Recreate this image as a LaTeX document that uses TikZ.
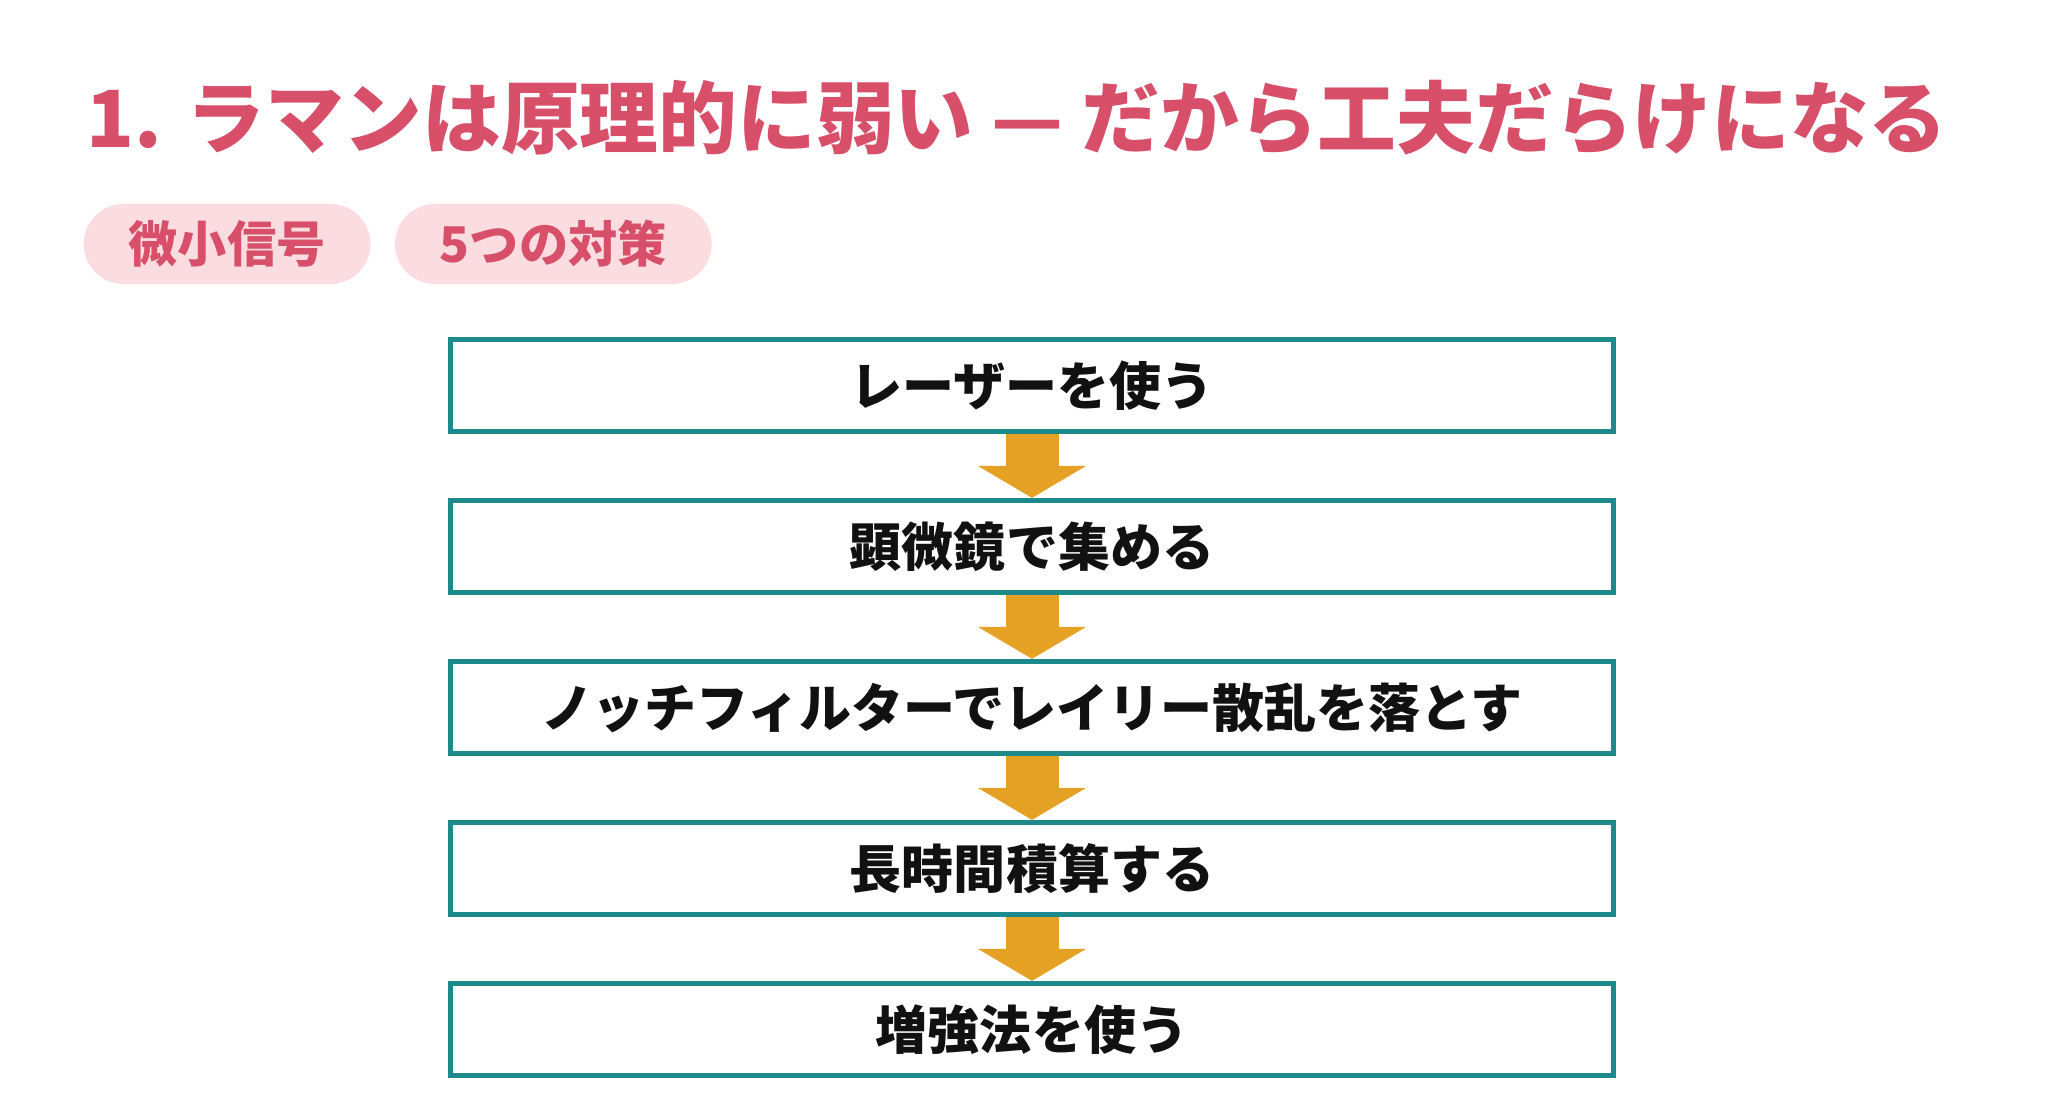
\documentclass[tikz,border=0pt]{standalone}
\usepackage{fontspec}
\setmainfont{Noto Sans CJK JP}
\usepackage{tikz}
\usetikzlibrary{positioning,arrows.meta,backgrounds}
\definecolor{rose1}{HTML}{D84F6A}
\definecolor{rosefill}{HTML}{FADCE1}
\definecolor{teal1}{HTML}{1C8A8C}
\definecolor{amber1}{HTML}{E5A124}
\definecolor{ink1}{HTML}{111111}

\begin{document}
\begin{tikzpicture}[
    stage/.style={draw=teal1, line width=1.5pt, fill=white,
                  minimum width=11.63cm, minimum height=0.92cm,
                  text=ink1, font=\bfseries\fontsize{14.8}{16}\selectfont},
    pill/.style={fill=rosefill, rounded corners=0.4cm,
                 minimum height=0.8cm, inner xsep=0.45cm,
                 text=rose1, font=\bfseries\fontsize{14}{16}\selectfont},
    flow/.style={amber1, line width=0.53cm,
                 -{Triangle[length=0.32cm, width=1.07cm]}},
]
\useasboundingbox (0,0) rectangle (20.64,-11.01);
\node[anchor=west, text=rose1, inner sep=0pt,
      font=\bfseries\fontsize{22.4}{24}\selectfont] (title) at (0.86,-1.18)
    {1. ラマンは原理的に弱い --- だから工夫だらけになる};
\node[pill, anchor=west] (tag1) at (0.83,-2.44) {微小信号};
\node[pill, right=0.23cm of tag1] (tag2) {5つの対策};

\node[stage] (s1) at (10.32,-3.855)  {レーザーを使う};
\node[stage] (s2) at (10.32,-5.465)  {顕微鏡で集める};
\node[stage] (s3) at (10.32,-7.075)  {ノッチフィルターでレイリー散乱を落とす};
\node[stage] (s4) at (10.32,-8.685)  {長時間積算する};
\node[stage] (s5) at (10.32,-10.295) {増強法を使う};

\begin{scope}[on background layer]
\foreach \a/\b in {s1/s2, s2/s3, s3/s4, s4/s5}
    \draw[flow] (\a.south) -- (\b.north);
\end{scope}
\end{tikzpicture}
\end{document}
